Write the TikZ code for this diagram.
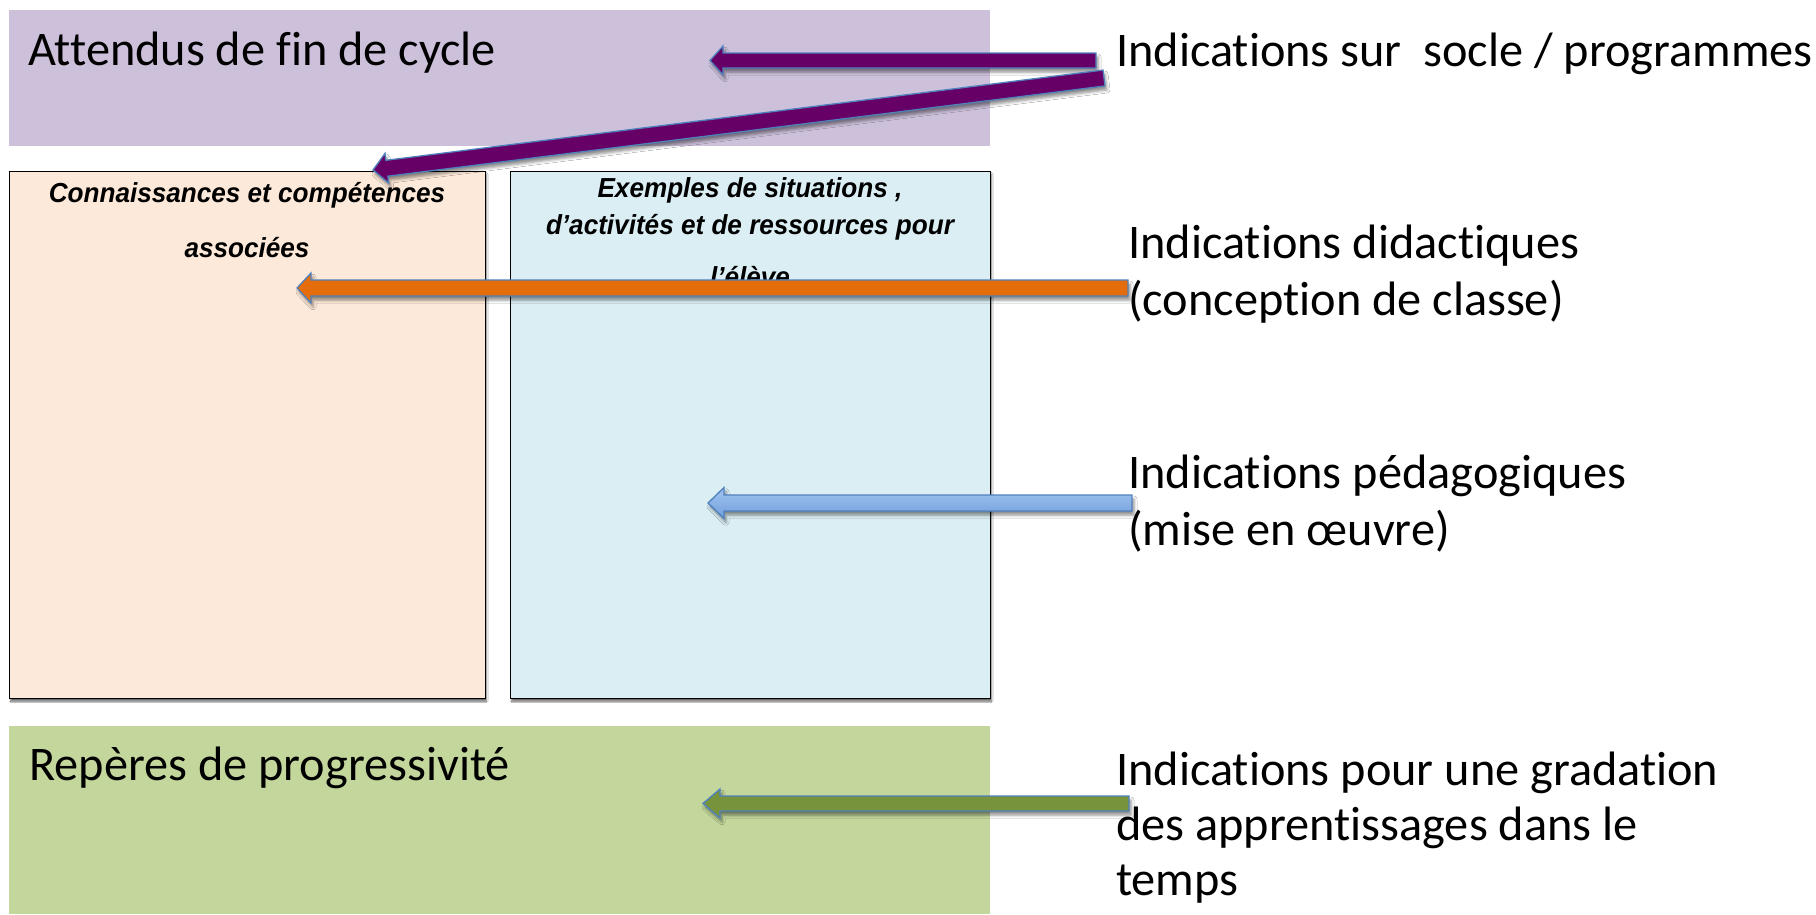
\documentclass[tikz,border=0pt]{standalone}
\usepackage{fontspec}
\setmainfont{Carlito}[Ligatures={NoCommon}]
\newfontfamily\arialf{Liberation Sans}[FakeStretch=0.95]
\usetikzlibrary{calc,shadows.blur}
\definecolor{attcol}{RGB}{204,192,218}
\definecolor{peach}{RGB}{253,233,217}
\definecolor{lblue}{RGB}{218,238,243}
\definecolor{lgreen}{RGB}{195,214,155}
\definecolor{aplum}{RGB}{102,0,102}
\definecolor{aorange}{RGB}{228,108,10}
\definecolor{ablueA}{RGB}{163,196,240}
\definecolor{ablueB}{RGB}{112,158,220}
\definecolor{agreen}{RGB}{119,147,60}
\definecolor{aedge}{RGB}{79,129,189}
\tikzset{
  area/.style={inner sep=0pt, anchor=north west, draw=none},
  framed/.style={area, draw=black, line width=1.2pt,
    blur shadow={shadow xshift=1pt, shadow yshift=-2.5pt, shadow blur radius=1.5pt, shadow opacity=60}},
  bigtxt/.style={inner sep=0pt, anchor=base west, font=\fontsize{48.3}{58}\selectfont},
  smalltxt/.style={inner sep=0pt, anchor=base, font=\arialf\bfseries\itshape\fontsize{27.5}{32}\selectfont},
  arrowbody/.style={draw=aedge, line width=1.3pt, line join=miter,
    blur shadow={shadow xshift=2pt, shadow yshift=-4pt, shadow blur radius=3pt, shadow opacity=45}}
}
% #1 tail, #2 tip, #3 shaft half width, #4 head half width, #5 head length, #6 style
\newcommand{\blockarrow}[6]{%
  \coordinate (neck) at ($(#2)!#5!(#1)$);
  \path[arrowbody,#6]
    ($(#1)!#3!90:(#2)$) -- ($(neck)!#3!90:(#2)$) -- ($(neck)!#4!90:(#2)$) -- (#2)
    -- ($(neck)!#4!-90:(#2)$) -- ($(neck)!#3!-90:(#2)$) -- ($(#1)!#3!-90:(#2)$) -- cycle;
}
\begin{document}
\begin{tikzpicture}[x=1pt,y=-1pt]
\useasboundingbox (0,0) rectangle (1816,914);
\fill[white] (0,0) rectangle (1816,914);
% areas
\node[area, fill=attcol, minimum width=981pt, minimum height=136pt] (att) at (9,10) {};
\node[framed, fill=peach, minimum width=476pt, minimum height=527pt] (conn) at (9,171) {};
\node[framed, fill=lblue, minimum width=480pt, minimum height=527pt] (ex) at (510,171) {};
\node[area, fill=lgreen, minimum width=981pt, minimum height=188pt] (rep) at (9,726) {};
% texts in areas
\node[bigtxt] (attT) at (28,65) {Attendus de fin de cycle};
\node[bigtxt] (repT) at (29,780) {Repères de progressivité};
\node[smalltxt] (connT1) at (247,202) {Connaissances et compétences};
\node[smalltxt] (connT2) at (247,257) {associées};
\node[smalltxt] (exT1) at (750,197) {Exemples de situations ,};
\node[smalltxt] (exT2) at (750,234) {d’activités et de ressources pour};
\node[smalltxt] (exT3) at (750,286) {l’élève};
% right texts
\node[bigtxt] (sur) at (1116,66) {Indications sur\ \ socle / programmes};
\node[bigtxt] (did1) at (1128,258) {Indications didactiques};
\node[bigtxt] (did2) at (1128,315) {(conception de classe)};
\node[bigtxt] (ped1) at (1128,488) {Indications pédagogiques};
\node[bigtxt] (ped2) at (1128,545) {(mise en œuvre)};
\node[bigtxt] (gra1) at (1116,785) {Indications pour une gradation};
\node[bigtxt] (gra2) at (1116,840) {des apprentissages dans le};
\node[bigtxt] (gra3) at (1116,895) {temps};
% arrow ends
\coordinate (t1) at (1096,60.5);   \coordinate (h1) at (710,60.5);
\coordinate (t2) at (1104,78);     \coordinate (h2) at (373,170);
\coordinate (t3) at (1128,288);    \coordinate (h3) at (297,288);
\coordinate (t4) at (1132,503);    \coordinate (h4) at (708,503);
\coordinate (t5) at (1129,803.5);  \coordinate (h5) at (703,803.5);
% arrows
\blockarrow{t1}{h1}{7.5pt}{14.5pt}{13pt}{fill=aplum}
\blockarrow{t2}{h2}{8pt}{15pt}{14pt}{fill=aplum}
\blockarrow{t3}{h3}{8pt}{15pt}{14pt}{fill=aorange}
\blockarrow{t4}{h4}{8pt}{15.5pt}{16pt}{top color=ablueA, bottom color=ablueB}
\blockarrow{t5}{h5}{7.5pt}{14.5pt}{17pt}{fill=agreen}
\end{tikzpicture}
\end{document}
